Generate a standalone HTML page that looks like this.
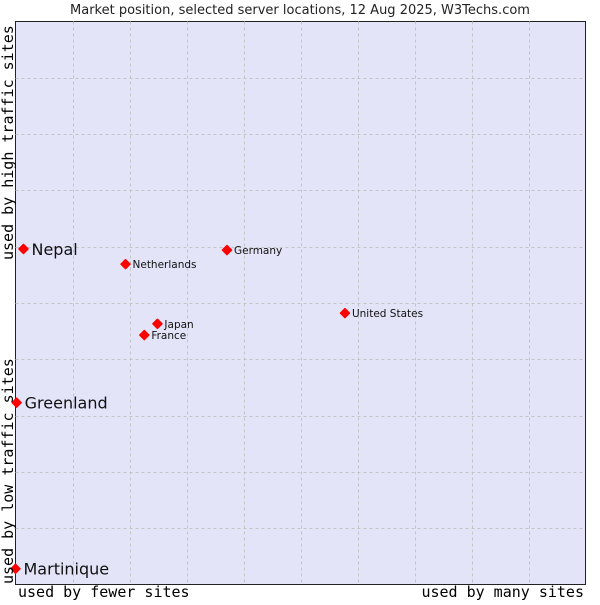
<!DOCTYPE html>
<html><head><meta charset="utf-8"><style>
body{margin:0;background:#fff;width:600px;height:600px;overflow:hidden}
svg text{font-family:"DejaVu Sans","Liberation Sans",sans-serif}
.mono{font-family:"DejaVu Sans Mono","Liberation Mono",monospace}
</style></head><body>
<svg id="chart" width="600" height="600">
<text x="300" y="14" text-anchor="middle" font-size="13" fill="#222">Market position, selected server locations, 12 Aug 2025, W3Techs.com</text>
<rect x="15.5" y="21.5" width="570" height="563" fill="#e3e4f8" stroke="#222" stroke-width="1"/>
<g id="grid"></g>
<g id="points"></g>
<text class="mono" x="18" y="597" font-size="15" fill="#000">used by fewer sites</text>
<text class="mono" x="584" y="597" font-size="15" fill="#000" text-anchor="end">used by many sites</text>
<text class="mono" transform="translate(13,584) rotate(-90)" font-size="15" fill="#000">used by low traffic sites</text>
<text class="mono" transform="translate(13,260) rotate(-90)" font-size="15" fill="#000">used by high traffic sites</text>
</svg>
<script>
const names=["Nepal","Netherlands","Germany","United States","Japan","France","Greenland","Martinique"];
const xVals=[1.4,19.3,37.1,57.8,24.9,22.6,0.2,0];
const yVals=[59.6,56.9,59.4,48.2,46.3,44.3,32.3,2.8];
const big=[true,false,false,false,false,false,true,true];
const L=15.5,R=585.5,T=21.5,B=584.5;
const sx=v=>L+v/100*(R-L);
const sy=v=>B-v/100*(B-T);
const NS="http://www.w3.org/2000/svg";
const grid=document.getElementById('grid');
for(let i=1;i<10;i++){
  const v=document.createElementNS(NS,'line');
  
  
  const x=Math.round(sx(i*10))+0.5;
  v.setAttribute('x1',x);v.setAttribute('x2',x);v.setAttribute('y1',T);v.setAttribute('y2',B);
  v.setAttribute('stroke','#c4c4c4');v.setAttribute('stroke-dasharray','3,3');
  grid.appendChild(v);
  const h=document.createElementNS(NS,'line');
  
  
  const y=Math.round(sy(i*10))+0.5;
  h.setAttribute('y1',y);h.setAttribute('y2',y);h.setAttribute('x1',L);h.setAttribute('x2',R);
  h.setAttribute('stroke','#c4c4c4');h.setAttribute('stroke-dasharray','3,3');
  grid.appendChild(h);
}
const pts=document.getElementById('points');
names.forEach((n,i)=>{
  const x=sx(xVals[i]),y=sy(yVals[i]);
  const m=document.createElementNS(NS,'path');
  
  
  m.setAttribute('d',`M${x} ${y-4.5}L${x+4.5} ${y}L${x} ${y+4.5}L${x-4.5} ${y}Z`);
  m.setAttribute('fill','#f00');m.setAttribute('stroke','#f00');m.setAttribute('stroke-width','1.5');m.setAttribute('stroke-linejoin','round');
  pts.appendChild(m);
  const t=document.createElementNS(NS,'text');
  
  
  t.setAttribute('x',x+(big[i]?8:7));
  t.setAttribute('y',y+(big[i]?6:4));
  t.setAttribute('font-size',big[i]?16:10.5);
  t.setAttribute('fill','#111');
  t.textContent=n;
  pts.appendChild(t);
});
</script>
</body></html>
